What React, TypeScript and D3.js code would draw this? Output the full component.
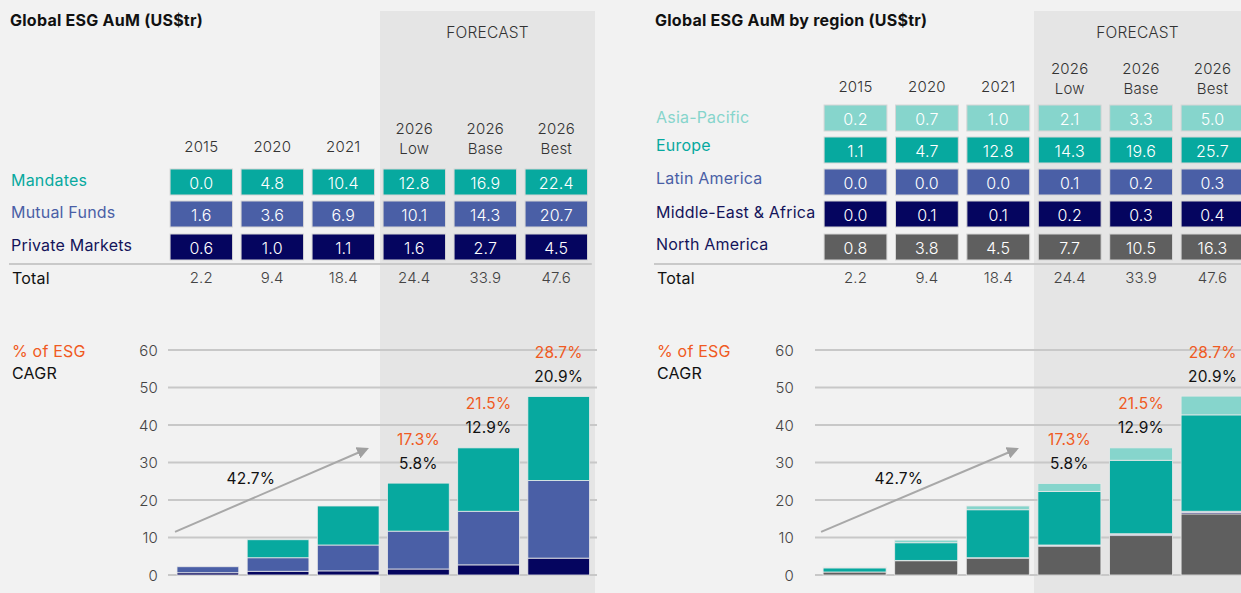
import React from "react";
import * as d3 from "d3";

const categories = ["2015", "2020", "2021", "2026 Low", "2026 Base", "2026 Best"];
const mandates = [0.0, 4.8, 10.4, 12.8, 16.9, 22.4];
const mutualFunds = [1.6, 3.6, 6.9, 10.1, 14.3, 20.7];
const privateMarkets = [0.6, 1.0, 1.1, 1.6, 2.7, 4.5];
const totals = [2.2, 9.4, 18.4, 24.4, 33.9, 47.6];

const asiaPacific = [0.2, 0.7, 1.0, 2.1, 3.3, 5.0];
const europe = [1.1, 4.7, 12.8, 14.3, 19.6, 25.7];
const latinAmerica = [0.0, 0.0, 0.0, 0.1, 0.2, 0.3];
const middleEastAfrica = [0.0, 0.1, 0.1, 0.2, 0.3, 0.4];
const northAmerica = [0.8, 3.8, 4.5, 7.7, 10.5, 16.3];

const pctOfEsg = ["", "", "", "17.3%", "21.5%", "28.7%"];
const forecastCagr = ["", "", "", "5.8%", "12.9%", "20.9%"];
const historicCagr = "42.7%";
const yTicks = [0, 10, 20, 30, 40, 50, 60];

const FONT = "Inter, 'Open Sans', sans-serif";
const C_TEAL = "#07a99f";
const C_BLUE = "#4a5fa6";
const C_NAVY = "#05055f";
const C_LIGHT = "#86d5cc";
const C_GREY = "#5f5f5f";
const C_ORANGE = "#f05a22";

type Series = { name: string; values: number[]; color: string; labelColor: string };

const leftSeries: Series[] = [
  { name: "Mandates", values: mandates, color: C_TEAL, labelColor: C_TEAL },
  { name: "Mutual Funds", values: mutualFunds, color: C_BLUE, labelColor: C_BLUE },
  { name: "Private Markets", values: privateMarkets, color: C_NAVY, labelColor: "#14145a" },
];
const rightSeries: Series[] = [
  { name: "Asia-Pacific", values: asiaPacific, color: C_LIGHT, labelColor: C_LIGHT },
  { name: "Europe", values: europe, color: C_TEAL, labelColor: C_TEAL },
  { name: "Latin America", values: latinAmerica, color: C_BLUE, labelColor: C_BLUE },
  { name: "Middle-East & Africa", values: middleEastAfrica, color: C_NAVY, labelColor: "#14145a" },
  { name: "North America", values: northAmerica, color: C_GREY, labelColor: "#14145a" },
];

type PanelProps = {
  title: string;
  series: Series[];
  left: number;
  cellRange: [number, number];
  barRange: [number, number];
  rowTops: number[];
  labelShift: number[];
  headerY: number;
  axisX: number;
  gridStart: number;
  gridEnd: number;
  shadeX: [number, number];
};

const LBL = { fontSize: 16, letterSpacing: 0.2, fontFamily: FONT } as const;
const NUM = { fontSize: 15, letterSpacing: 0.2, fontWeight: 300, fontFamily: FONT } as const;

function Panel(p: PanelProps) {
  const xc = d3.scaleBand<string>().domain(categories).range(p.cellRange).paddingInner(0.12).paddingOuter(0.06);
  const xb = d3.scaleBand<string>().domain(categories).range(p.barRange).paddingInner(0.12).paddingOuter(0.06);
  const y = d3.scaleLinear().domain([0, 60]).range([575, 350]);
  const rowH = 26;

  const stackOrder = [...p.series].reverse();
  const data = categories.map((c, i) => {
    const o: any = { cat: c };
    stackOrder.forEach((s) => (o[s.name] = s.values[i]));
    return o;
  });
  const stack = d3.stack<any>().keys(stackOrder.map((s) => s.name))(data);
  const colorOf = (n: string) => p.series.find((s) => s.name === n)!.color;

  const a0x = xb(categories[0])! - 2;
  const a1x = xb(categories[2])! + xb.bandwidth() * 0.8;
  const a0y = y(11.5);
  const a1y = y(33.6);

  return (
    <g>
      <rect x={p.shadeX[0]} y={11} width={p.shadeX[1] - p.shadeX[0]} height={600} fill="#e5e5e5" />
      <text x={p.left} y={20} fontSize={16} letterSpacing={0.25} fontWeight={700} fill="#111" dominantBaseline="central" fontFamily={FONT}>
        {p.title}
      </text>
      <text x={(p.shadeX[0] + p.shadeX[1]) / 2} y={32} {...NUM} fontSize={15.5} fill="#333" textAnchor="middle" dominantBaseline="central">
        FORECAST
      </text>
      {categories.map((c) => {
        const cx = xc(c)! + xc.bandwidth() / 2;
        const parts = c.split(" ");
        return parts.length === 1 ? (
          <text key={c} x={cx} y={p.headerY} {...NUM} fill="#333" textAnchor="middle" dominantBaseline="central">
            {c}
          </text>
        ) : (
          <text key={c} x={cx} {...NUM} fill="#333" textAnchor="middle" dominantBaseline="central">
            <tspan x={cx} y={p.headerY - 18}>{parts[0]}</tspan>
            <tspan x={cx} y={p.headerY + 2}>{parts[1]}</tspan>
          </text>
        );
      })}
      {p.series.map((s, r) => (
        <g key={s.name}>
          <text x={p.left + 1} y={p.rowTops[r] + rowH / 2 - 2 + p.labelShift[r]} {...LBL} fill={s.labelColor} dominantBaseline="central">
            {s.name}
          </text>
          {categories.map((c, i) => (
            <g key={c}>
              <rect x={xc(c)} y={p.rowTops[r]} width={xc.bandwidth()} height={rowH} fill={s.color} stroke="#d6d6d6" strokeWidth={1} />
              <text
                x={xc(c)! + xc.bandwidth() / 2}
                y={p.rowTops[r] + rowH / 2 + 1}
                {...NUM}
                fontSize={16}
                fill="#fff"
                textAnchor="middle"
                dominantBaseline="central"
              >
                {s.values[i].toFixed(1)}
              </text>
            </g>
          ))}
        </g>
      ))}
      <line x1={p.left - 1} x2={p.cellRange[1]} y1={264} y2={264} stroke="#c9c9c9" strokeWidth={2} />
      <text x={p.left + 2} y={278} {...LBL} fill="#111" dominantBaseline="central">
        Total
      </text>
      {categories.map((c, i) => (
        <text key={c} x={xc(c)! + xc.bandwidth() / 2} y={277} {...NUM} fill="#444" textAnchor="middle" dominantBaseline="central">
          {totals[i].toFixed(1)}
        </text>
      ))}
      <text x={p.left + 2} y={351} {...LBL} fill={C_ORANGE} dominantBaseline="central">
        % of ESG
      </text>
      <text x={p.left + 2} y={373} {...LBL} fill="#111" dominantBaseline="central">
        CAGR
      </text>
      {yTicks.map((t) => (
        <g key={t}>
          <line x1={p.gridStart} x2={p.gridEnd} y1={y(t)} y2={y(t)} stroke="#c8c8c8" strokeWidth={2} />
          <text x={p.axisX} y={y(t)} {...NUM} fill="#444" textAnchor="end" dominantBaseline="central">
            {t}
          </text>
        </g>
      ))}
      {stack.map((layer) =>
        layer.map((d, i) => (
          <rect
            key={layer.key + i}
            x={xb(categories[i])}
            y={y(d[1])}
            width={xb.bandwidth()}
            height={Math.max(0, y(d[0]) - y(d[1]))}
            fill={colorOf(layer.key as string)}
            stroke="#e9e9e9"
            strokeWidth={0.8}
          />
        ))
      )}
      <defs>
        <marker id={"arr" + p.left} viewBox="0 0 10 10" refX={8} refY={5} markerWidth={6} markerHeight={6} orient="auto">
          <path d="M0,0 L10,5 L0,10 z" fill="#a0a0a0" />
        </marker>
      </defs>
      <line x1={a0x} y1={a0y} x2={a1x} y2={a1y} stroke="#a8a8a8" strokeWidth={2} markerEnd={`url(#arr${p.left})`} />
      <text x={(a0x + a1x) / 2 - 20} y={478} {...LBL} fontSize={15.5} fill="#111" textAnchor="middle" dominantBaseline="central">
        {historicCagr}
      </text>
      {categories.map((c, i) =>
        pctOfEsg[i] ? (
          <g key={c}>
            <text x={xb(c)! + xb.bandwidth() / 2} y={y(totals[i]) - 44} {...LBL} fontSize={15.5} fill={C_ORANGE} textAnchor="middle" dominantBaseline="central">
              {pctOfEsg[i]}
            </text>
            <text x={xb(c)! + xb.bandwidth() / 2} y={y(totals[i]) - 20} {...LBL} fontSize={15.5} fill="#111" textAnchor="middle" dominantBaseline="central">
              {forecastCagr[i]}
            </text>
          </g>
        ) : null
      )}
    </g>
  );
}

export default function App() {
  return (
    <svg width={1241} height={593} style={{ position: "absolute", left: 0, top: 0, background: "#f2f2f2" }}>
      <rect x={0} y={0} width={1241} height={593} fill="#f2f2f2" />
      <Panel
        title="Global ESG AuM (US$tr)"
        series={leftSeries}
        left={10}
        cellRange={[165.8, 591.8]}
        barRange={[172.8, 593.8]}
        rowTops={[169, 201, 234]}
        labelShift={[0, 0, 0]}
        headerY={146}
        axisX={158}
        gridStart={168}
        gridEnd={597}
        shadeX={[380, 595]}
      />
      <Panel
        title="Global ESG AuM by region (US$tr)"
        series={rightSeries}
        left={655}
        cellRange={[819.8, 1248.2]}
        barRange={[818.8, 1248.4]}
        rowTops={[105, 137, 169, 201, 234]}
        labelShift={[1, -3, -2, 0, -1]}
        headerY={86}
        axisX={794}
        gridStart={815}
        gridEnd={1241}
        shadeX={[1034, 1241]}
      />
    </svg>
  );
}
